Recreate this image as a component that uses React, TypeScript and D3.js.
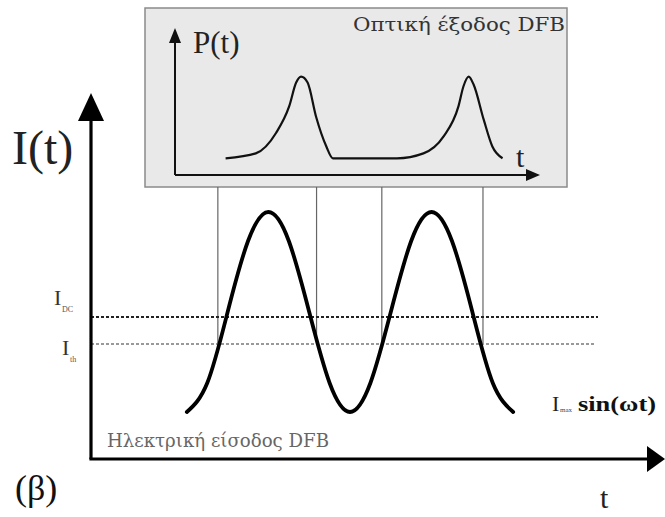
import React from "react";
import * as d3 from "d3";

// main current waveform I(t), sampled every 1/8 period (t in quarter periods)
const sineT = [0, 0.5, 1, 1.5, 2, 2.5, 3, 3.5, 4, 4.5, 5, 5.5, 6, 6.5, 7, 7.5, 8];
const sineI = [-1, -0.71, 0, 0.71, 1, 0.71, 0, -0.71, -1, -0.71, 0, 0.71, 1, 0.71, 0, -0.71, -1];

// bias levels
const levelDC = -0.05;
const levelTh = -0.32;

// crossing points of I(t) with the threshold, projected into the inset
const markT = [0.76, 3.18, 4.78, 7.26];

// optical output P(t)
const pulseT = [0.95, 1.69, 2.19, 2.51, 2.68, 2.8, 2.96, 3.17, 3.42, 3.58, 5.15, 5.8, 6.29, 6.66, 6.78, 6.91, 7.03, 7.28, 7.49, 7.74];
const pulseP = [0.17, 0.22, 0.43, 0.7, 0.94, 1.0, 0.94, 0.59, 0.29, 0.17, 0.17, 0.22, 0.39, 0.7, 0.9, 1.0, 0.92, 0.56, 0.29, 0.17];

const W = 665;
const H = 517;
const font = "'Liberation Serif', 'Times New Roman', 'DejaVu Serif', serif";
const greekFont = "'DejaVu Serif', serif";

export default function App() {
  const x = d3.scaleLinear().domain([-2.35, 11.6]).range([91, 660]);
  const y = d3.scaleLinear().domain([-1.47, 2.19]).range([459, 93]);
  // inset scale for P(t)
  const yp = d3.scaleLinear().domain([0, 1.5]).range([175, 27.5]);

  const sineLine = d3
    .line<number>()
    .x((d, i) => x(sineT[i]))
    .y((d) => y(d))
    .curve(d3.curveNatural);

  const pulseLine = d3
    .line<number>()
    .x((d, i) => x(pulseT[i]))
    .y((d) => yp(d))
    .curve(d3.curveMonotoneX);

  const box = { x0: 145, x1: 567, y0: 8, y1: 187 };
  const axX = 91;
  const axY = 459;
  const inAxX = 175;
  const inAxY = yp(0);

  return (
    <svg
      width={W}
      height={H}
      style={{ position: "absolute", left: 0, top: 0, background: "#fff", fontFamily: font }}
    >
      {/* inset panel */}
      <rect
        x={box.x0}
        y={box.y0}
        width={box.x1 - box.x0}
        height={box.y1 - box.y0}
        fill="#e9e9e9"
        stroke="#8a8a8a"
        strokeWidth={1.5}
      />
      <line x1={inAxX} y1={inAxY} x2={inAxX} y2={42} stroke="#111" strokeWidth={2} />
      <path d={`M${inAxX},28 L${inAxX - 6},43 L${inAxX + 6},43 Z`} fill="#111" />
      <line x1={inAxX} y1={inAxY} x2={528} y2={inAxY} stroke="#111" strokeWidth={2} />
      <path d={`M540,${inAxY} L526,${inAxY - 6} L526,${inAxY + 6} Z`} fill="#111" />
      <path d={pulseLine(pulseP) || ""} fill="none" stroke="#111" strokeWidth={2.2} />
      <text x={193} y={53} fontSize={31} fill="#222">P(t)</text>
      <text x={516} y={167} fontSize={30} fill="#222">t</text>
      <text
        x={353}
        y={31}
        fontSize={19}
        fill="#333"
        style={{ fontFamily: greekFont }}
        textLength={212}
        lengthAdjust="spacingAndGlyphs"
      >
        Οπτική έξοδος DFB
      </text>

      {/* projection lines */}
      {markT.map((t, i) => (
        <line
          key={i}
          x1={x(t)}
          x2={x(t)}
          y1={box.y1}
          y2={y(levelTh)}
          stroke="#666"
          strokeWidth={1.2}
        />
      ))}

      {/* bias levels */}
      <line x1={axX} x2={598} y1={y(levelDC)} y2={y(levelDC)} stroke="#222" strokeWidth={2.2} strokeDasharray="3 2" />
      <line x1={axX} x2={595} y1={y(levelTh)} y2={y(levelTh)} stroke="#999" strokeWidth={2} strokeDasharray="3 2" />

      {/* drive current */}
      <path d={sineLine(sineI) || ""} fill="none" stroke="#000" strokeWidth={3.8} strokeLinecap="round" />

      {/* main axes */}
      <line x1={axX} y1={axY} x2={axX} y2={118} stroke="#000" strokeWidth={3.2} />
      <path d={`M${axX},93 L${axX - 13},121 L${axX + 13},121 Z`} fill="#000" />
      <line x1={axX - 1.6} y1={axY} x2={648} y2={axY} stroke="#000" strokeWidth={3.2} />
      <path d={`M665,${axY} L647,${axY - 13} L647,${axY + 13} Z`} fill="#000" />

      {/* labels */}
      <text x={12} y={164} fontSize={48} fill="#222">I(t)</text>
      <text x={54} y={305} fontSize={22} fill="#333">I</text>
      <text x={62} y={312} fontSize={8} fill="#555">DC</text>
      <text x={62} y={355} fontSize={22} fill="#333">I</text>
      <text x={70} y={362} fontSize={8} fill="#555">th</text>
      <text x={552} y={411} fontSize={22} fill="#222">I</text>
      <text x={560} y={412} fontSize={7} fill="#444">max</text>
      <text x={578} y={411} fontSize={21} fill="#111" fontWeight="bold" textLength={78} lengthAdjust="spacingAndGlyphs">
        sin(ωt)
      </text>
      <text
        x={107}
        y={447}
        fontSize={19}
        fill="#666"
        style={{ fontFamily: greekFont }}
        textLength={222}
        lengthAdjust="spacingAndGlyphs"
      >
        Ηλεκτρική είσοδος DFB
      </text>
      <text x={15} y={500} fontSize={36} fill="#111">(β)</text>
      <text x={600} y={508} fontSize={30} fill="#222">t</text>
    </svg>
  );
}
